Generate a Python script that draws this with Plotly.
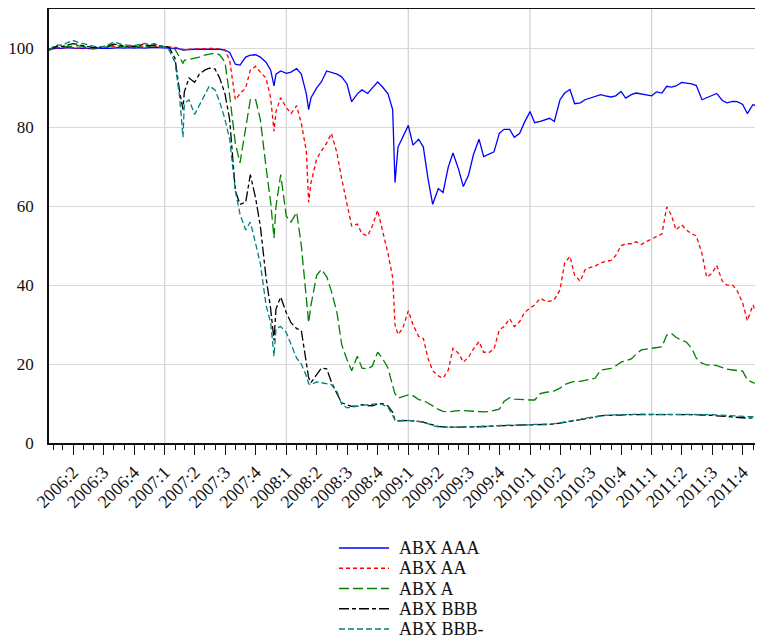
import pandas as pd
import plotly.graph_objects as go

# ---------------- data ----------------
DATES = [
    # 2006
    "2006-01-19", "2006-02-01", "2006-02-15", "2006-03-01", "2006-03-15", "2006-04-01", "2006-04-15",
    "2006-05-01", "2006-05-15", "2006-06-01", "2006-06-15", "2006-07-01", "2006-07-15", "2006-08-01",
    "2006-08-15", "2006-09-01", "2006-09-15", "2006-10-01", "2006-10-15", "2006-11-01", "2006-11-15",
    "2006-12-01", "2006-12-15",
    # 2007
    "2007-01-01", "2007-01-15", "2007-02-01", "2007-02-15", "2007-02-25", "2007-03-01", "2007-03-15",
    "2007-04-01", "2007-04-15", "2007-05-01", "2007-05-15", "2007-06-01", "2007-06-15", "2007-07-01",
    "2007-07-15", "2007-08-01", "2007-08-15", "2007-09-01", "2007-09-15", "2007-10-01", "2007-10-15",
    "2007-11-01", "2007-11-15", "2007-11-25", "2007-12-01", "2007-12-15",
    # 2008
    "2008-01-01", "2008-01-15", "2008-02-01", "2008-02-15", "2008-03-01", "2008-03-08", "2008-03-15",
    "2008-04-01", "2008-04-15", "2008-05-01", "2008-05-15", "2008-06-01", "2008-06-15", "2008-07-01",
    "2008-07-15", "2008-08-01", "2008-08-15", "2008-09-01", "2008-09-15", "2008-10-01", "2008-10-15",
    "2008-11-01", "2008-11-15", "2008-11-22", "2008-12-01", "2008-12-15",
    # 2009
    "2009-01-01", "2009-01-15", "2009-02-01", "2009-02-15", "2009-03-01", "2009-03-15", "2009-04-01",
    "2009-04-15", "2009-05-01", "2009-05-15", "2009-06-01", "2009-06-15", "2009-07-01", "2009-07-15",
    "2009-08-01", "2009-08-15", "2009-09-01", "2009-09-15", "2009-10-01", "2009-10-15", "2009-11-01",
    "2009-11-15", "2009-12-01", "2009-12-15",
    # 2010
    "2010-01-01", "2010-01-15", "2010-02-01", "2010-02-15", "2010-03-01", "2010-03-15", "2010-04-01",
    "2010-04-15", "2010-05-01", "2010-05-15", "2010-06-01", "2010-06-15", "2010-07-01", "2010-07-15",
    "2010-08-01", "2010-08-15", "2010-09-01", "2010-09-15", "2010-10-01", "2010-10-15", "2010-11-01",
    "2010-11-15", "2010-12-01", "2010-12-15",
    # 2011
    "2011-01-01", "2011-01-15", "2011-02-01", "2011-02-15", "2011-03-01", "2011-03-15", "2011-04-01",
    "2011-04-15", "2011-05-01", "2011-05-15", "2011-06-01", "2011-06-15", "2011-07-01", "2011-07-15",
    "2011-08-01", "2011-08-15", "2011-09-01", "2011-09-15", "2011-10-01", "2011-10-15", "2011-11-01",
    "2011-11-15", "2011-11-30",
]

ABX_AAA = [
    99.8, 100.0, 100.1, 100.0, 100.2, 100.1, 100.0, 100.1, 100.0, 99.9, 100.0, 100.1, 100.0, 100.1,
    100.2, 100.1, 100.2, 100.1, 100.2, 100.1, 100.2, 100.3, 100.2,
    100.2, 100.1, 100.0, 99.9, 99.6, 99.6, 99.7, 99.8, 99.8, 99.9, 99.9, 99.9, 99.8, 99.6,
    99.0, 96.0, 95.8, 97.8, 98.3, 98.4, 97.8, 96.5, 94.5, 90.5, 93.5, 94.3,
    93.7, 94.0, 94.9, 93.5, 88.5, 84.5, 87.5, 90.0, 91.5, 94.3, 94.0, 93.5, 92.8, 91.0,
    86.5, 88.5, 89.5, 88.6, 90.0, 91.5, 90.3, 88.5, 84.5, 66.0, 75.0, 77.5,
    80.5, 75.5, 77.0, 75.0, 67.0, 60.5, 64.5, 63.5, 70.0, 73.5, 69.3, 65.0, 68.0, 73.0,
    77.0, 72.6, 73.2, 73.8, 78.5, 79.5, 79.5, 77.5, 78.5, 81.2,
    84.0, 81.2, 81.5, 82.0, 82.3, 81.5, 87.0, 88.7, 89.6, 86.0, 86.2, 87.0, 87.4, 87.8,
    88.3, 88.0, 87.7, 88.0, 89.1, 87.4, 88.3, 88.7, 88.4, 88.2,
    88.0, 89.0, 88.7, 90.4, 90.2, 90.5, 91.4, 91.2, 91.0, 90.6, 87.0, 87.5, 88.0, 88.6,
    86.8, 86.2, 86.6, 86.5, 85.8, 83.5, 85.8, 85.2, 84.8,
]

ABX_AA = [
    99.8, 100.1, 100.2, 100.1, 100.3, 100.2, 100.1, 100.2, 100.1, 100.0, 100.2, 100.3, 100.2, 100.4,
    100.5, 100.3, 100.4, 100.3, 100.5, 100.4, 100.5, 100.6, 100.5,
    100.5, 100.4, 100.3, 100.0, 99.8, 99.7, 99.8, 99.9, 99.9, 100.0, 100.0, 100.0, 99.9, 99.6,
    97.0, 87.0, 88.5, 90.0, 94.5, 95.5, 94.0, 92.5, 87.5, 79.0, 84.0, 87.5,
    85.0, 83.5, 85.5, 81.0, 74.0, 61.0, 66.0, 72.0, 74.0, 76.0, 78.5, 73.5, 67.0, 61.0,
    55.0, 55.5, 53.0, 52.5, 55.0, 59.0, 54.0, 48.0, 42.0, 30.0, 27.5, 29.0,
    33.5, 30.0, 27.0, 26.5, 21.5, 18.3, 17.0, 16.4, 18.5, 24.0, 22.7, 20.5, 21.8, 23.8,
    25.7, 23.0, 23.0, 23.8, 28.7, 29.5, 31.5, 29.5, 30.8, 33.0,
    34.2, 35.0, 36.7, 36.0, 35.9, 36.3, 38.8, 45.6, 47.3, 42.5, 41.0, 43.9, 44.5, 44.8,
    45.7, 46.0, 46.3, 47.5, 50.0, 50.5, 50.5, 51.0, 50.3, 51.0,
    51.6, 52.3, 53.0, 59.8, 57.8, 54.0, 55.3, 54.0, 53.0, 52.5, 48.0, 42.0, 43.0, 45.0,
    41.0, 40.0, 40.0, 38.5, 35.5, 31.0, 35.0, 32.0, 32.8,
]

ABX_A = [
    99.6, 100.2, 100.4, 100.3, 100.6, 100.5, 100.7, 100.4, 100.3, 100.1, 100.2, 100.3, 100.4, 100.8,
    100.6, 100.4, 100.5, 100.4, 100.6, 100.7, 100.5, 100.8, 100.6,
    100.5, 100.3, 99.8, 97.8, 96.2, 97.0, 97.2, 97.6, 97.8, 98.3, 98.6, 98.8, 98.4, 96.5,
    88.0, 76.0, 71.0, 80.0, 87.0, 87.0, 82.0, 70.0, 61.0, 52.0, 60.0, 68.0,
    57.5, 56.0, 58.5, 50.0, 37.5, 30.5, 35.0, 42.5, 44.0, 42.2, 38.5, 33.0, 25.0, 21.1,
    18.3, 22.0, 19.0, 18.8, 19.5, 23.0, 21.5, 19.0, 14.5, 12.5, 11.4, 11.8,
    12.2, 12.0, 11.0, 10.8, 10.0, 9.4, 8.5, 8.0, 7.9, 8.1, 8.2, 8.2, 8.1, 8.0,
    7.9, 7.9, 8.0, 8.2, 8.6, 10.5, 11.5, 11.1, 11.0, 10.9,
    10.9, 10.9, 12.5, 12.8, 13.0, 13.2, 13.9, 14.8, 15.3, 15.6, 15.6, 15.8, 16.2, 16.4,
    18.5, 18.7, 18.9, 19.5, 20.5, 20.8, 21.3, 22.5, 23.6, 23.8,
    24.0, 24.2, 24.4, 27.3, 27.8, 26.8, 26.0, 25.6, 24.0, 21.5, 20.2, 19.8, 19.8, 19.6,
    19.0, 18.7, 18.5, 18.4, 18.2, 16.0, 15.3, 15.0, 14.3,
]

ABX_BBB = [
    99.5, 100.3, 100.6, 100.5, 100.9, 101.2, 101.0, 100.7, 100.5, 100.2, 100.3, 100.4, 100.6, 101.1,
    100.9, 100.6, 100.7, 100.5, 100.8, 101.0, 100.7, 100.9, 100.6,
    100.6, 100.2, 97.5, 89.0, 84.5, 89.0, 92.5, 91.4, 93.5, 94.5, 95.0, 94.8, 92.5, 88.5,
    82.0, 64.0, 60.5, 61.0, 68.0, 62.0, 55.0, 42.0, 34.0, 26.0, 34.0, 37.0,
    33.0, 30.5, 29.0, 28.5, 20.0, 16.5, 15.3, 17.5, 19.0, 18.8, 15.5, 12.5, 10.2, 9.7,
    9.3, 9.4, 9.7, 9.5, 9.4, 9.9, 10.0, 9.4, 7.8, 5.8, 5.6, 5.7,
    5.7, 5.6, 5.5, 5.3, 4.9, 4.5, 4.2, 4.1, 4.0, 4.0, 4.0, 4.1, 4.1, 4.1,
    4.1, 4.1, 4.2, 4.3, 4.4, 4.4, 4.4, 4.5, 4.5, 4.6,
    4.6, 4.6, 4.6, 4.6, 4.7, 4.8, 5.0, 5.3, 5.5, 5.7, 5.9, 6.1, 6.4, 6.7,
    6.9, 7.0, 7.0, 7.1, 7.1, 7.2, 7.2, 7.2, 7.3, 7.3,
    7.3, 7.3, 7.3, 7.3, 7.3, 7.3, 7.3, 7.3, 7.2, 7.2, 7.1, 7.1, 7.0, 6.9,
    6.8, 6.6, 6.5, 6.4, 6.3, 6.3, 6.4, 6.5, 6.6,
]

ABX_BBB_MINUS = [
    99.4, 100.5, 100.9, 100.8, 101.5, 102.0, 101.6, 101.2, 101.0, 100.6, 100.4, 100.5, 100.9, 101.6,
    101.3, 100.9, 100.8, 100.7, 101.0, 101.3, 101.0, 101.2, 100.8,
    100.3, 99.5, 96.5, 87.5, 77.5, 86.0, 87.0, 83.3, 85.5, 88.0, 90.5, 89.5, 86.5, 82.0,
    77.0, 64.0, 58.0, 54.0, 56.0, 50.5, 45.5, 35.0, 30.5, 22.0, 29.0, 29.5,
    28.0, 25.0, 21.5, 20.0, 17.0, 15.0, 14.8, 15.5, 15.3, 15.0, 14.8, 13.0, 9.8, 8.9,
    9.1, 9.3, 9.6, 9.7, 9.8, 10.0, 9.8, 9.0, 7.0, 5.8, 5.6, 5.7,
    5.7, 5.6, 5.5, 5.3, 4.9, 4.4, 4.1, 4.0, 4.0, 4.0, 4.1, 4.1, 4.1, 4.1,
    4.2, 4.2, 4.3, 4.3, 4.4, 4.5, 4.5, 4.5, 4.6, 4.6,
    4.6, 4.7, 4.7, 4.7, 4.8, 4.9, 5.1, 5.4, 5.6, 5.8, 6.0, 6.3, 6.5, 6.8,
    7.0, 7.0, 7.1, 7.1, 7.2, 7.2, 7.2, 7.3, 7.3, 7.3,
    7.3, 7.3, 7.3, 7.3, 7.3, 7.3, 7.3, 7.3, 7.3, 7.3, 7.2, 7.2, 7.2, 7.1,
    7.0, 7.0, 6.9, 6.9, 6.8, 6.7, 6.7, 6.8, 6.8,
]

SERIES_NAMES = ["ABX AAA", "ABX AA", "ABX A", "ABX BBB", "ABX BBB-"]

QUARTER_LABELS = [
    "2006:2", "2006:3", "2006:4",
    "2007:1", "2007:2", "2007:3", "2007:4",
    "2008:1", "2008:2", "2008:3", "2008:4",
    "2009:1", "2009:2", "2009:3", "2009:4",
    "2010:1", "2010:2", "2010:3", "2010:4",
    "2011:1", "2011:2", "2011:3", "2011:4",
]
Y_TICKS = [0, 20, 40, 60, 80, 100]

for s in (ABX_AAA, ABX_AA, ABX_A, ABX_BBB, ABX_BBB_MINUS):
    assert len(s) == len(DATES), (len(s), len(DATES))

# ---------------- styling ----------------
FONT = "Liberation Serif, Times New Roman, serif"
TXT = "#111111"
styles = [
    dict(color="#0000ff", dash="solid"),
    dict(color="#ff0000", dash="4px,3px"),
    dict(color="#008000", dash="10px,4px"),
    dict(color="#000000", dash="10px,3px,4px,3px"),
    dict(color="#008080", dash="6px,3px"),
]

# the page body has an 8px margin, so the figure is drawn 8px in from the window corner
PAGE_OFF = 8
W, H = 763 - PAGE_OFF, 642 - PAGE_OFF
M_L, M_R, M_T, M_B = 49 - PAGE_OFF, 0, 9 - PAGE_OFF, 642 - 443
PLOT_W = W - M_L - M_R
PLOT_H = H - M_T - M_B


def q_to_date(lbl):
    y, q = lbl.split(":")
    return f"{y}-{(int(q) - 1) * 3 + 1:02d}-01"


tickvals = [q_to_date(l) for l in QUARTER_LABELS]
year_grid = [v for v, l in zip(tickvals, QUARTER_LABELS) if l.endswith(":1")]
minor_vals = [d.strftime("%Y-%m-%d") for d in pd.date_range("2006-02-01", "2011-11-01", freq="MS")]

fig = go.Figure()
for name, vals, st in zip(SERIES_NAMES,
                          [ABX_AAA, ABX_AA, ABX_A, ABX_BBB, ABX_BBB_MINUS],
                          styles):
    fig.add_trace(go.Scatter(
        x=DATES, y=vals, mode="lines", name=name, showlegend=False,
        line=dict(color=st["color"], dash=st["dash"], width=1.3),
    ))

# vertical grid lines at the start of each year
for d in year_grid:
    fig.add_shape(type="line", xref="x", yref="paper", x0=d, x1=d, y0=0, y1=1,
                  line=dict(color="#d4d4d4", width=1.3), layer="below")

# legend below the plot (line samples + labels, in paper coordinates)
LEG_X0, LEG_X1, LEG_TX = 339, 389, 397      # pixels in the window
LEG_Y0, LEG_DY = 548, 20.25
for i, (name, st) in enumerate(zip(SERIES_NAMES, styles)):
    py = LEG_Y0 + i * LEG_DY - PAGE_OFF
    yp = (M_T + PLOT_H - py) / PLOT_H
    fig.add_shape(type="line", xref="paper", yref="paper",
                  x0=(LEG_X0 - PAGE_OFF - M_L) / PLOT_W, x1=(LEG_X1 - PAGE_OFF - M_L) / PLOT_W,
                  y0=yp, y1=yp,
                  line=dict(color=st["color"], dash=st["dash"], width=1.3))
    fig.add_annotation(xref="paper", yref="paper", x=(LEG_TX - PAGE_OFF - M_L) / PLOT_W, y=yp,
                       xanchor="left", yanchor="middle", text=name, showarrow=False,
                       font=dict(family=FONT, size=18, color=TXT))

fig.update_layout(
    width=W, height=H,
    margin=dict(l=M_L, r=M_R, t=M_T, b=M_B),
    paper_bgcolor="white", plot_bgcolor="white",
    font=dict(family=FONT, size=18, color=TXT),
    showlegend=False,
    xaxis=dict(
        type="date", automargin=False,
        range=["2006-01-19", "2011-12-01"],
        tickmode="array", tickvals=tickvals, ticktext=QUARTER_LABELS,
        tickangle=-45,
        ticks="outside", ticklen=10, tickwidth=1.3, tickcolor=TXT,
        minor=dict(tickmode="array", tickvals=minor_vals, ticks="outside",
                   ticklen=5, tickwidth=1.3, tickcolor=TXT, showgrid=False),
        showgrid=False, zeroline=False,
        showline=True, linecolor=TXT, linewidth=1.5, mirror=True,
        tickfont=dict(family=FONT, size=18, color=TXT),
    ),
    yaxis=dict(
        range=[0, 110], automargin=False,
        tickmode="array", tickvals=Y_TICKS,
        showgrid=True, gridcolor="#d9d9d9", gridwidth=1.3,
        zeroline=False, ticks="", ticklabelstandoff=10,
        showline=True, linecolor=TXT, linewidth=1.5,
        tickfont=dict(family=FONT, size=17, color=TXT),
    ),
)

fig.write_html("out.html")
